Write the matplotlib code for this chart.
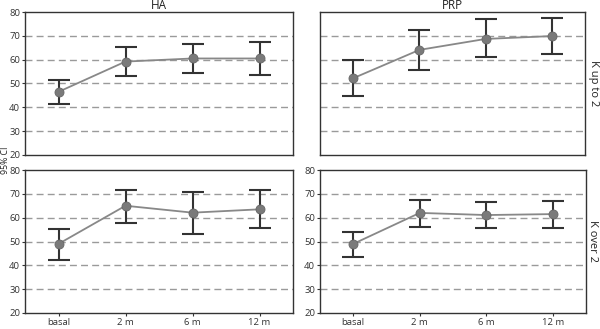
import matplotlib
matplotlib.use("Agg")
import matplotlib.pyplot as plt
import numpy as np

plt.rcParams['font.family'] = ['Open Sans', 'DejaVu Sans']

categories = ["basal", "2 m", "6 m", "12 m"]
col_titles = ["HA", "PRP"]
row_titles = ["K up to 2", "K over 2"]

# HA, K up to 2
ha_up_mean = [46.5, 59.2, 60.5, 60.5]
ha_up_low = [41.6, 53.2, 54.5, 53.6]
ha_up_high = [51.4, 65.3, 66.5, 67.3]
# PRP, K up to 2
prp_up_mean = [52.2, 64.1, 68.7, 69.9]
prp_up_low = [44.6, 55.6, 61.1, 62.5]
prp_up_high = [59.7, 72.5, 77.0, 77.4]
# HA, K over 2
ha_over_mean = [49.0, 65.0, 62.1, 63.5]
ha_over_low = [42.3, 57.9, 53.1, 55.5]
ha_over_high = [55.4, 71.7, 70.8, 71.7]
# PRP, K over 2
prp_over_mean = [49.0, 62.0, 61.1, 61.5]
prp_over_low = [43.7, 56.1, 55.7, 55.7]
prp_over_high = [54.0, 67.5, 66.4, 67.0]

yticks = [20, 30, 40, 50, 60, 70, 80]
grid_vals = [30, 40, 50, 60, 70]

W, H = 600, 329
fig = plt.figure(figsize=(6.0, 3.29), dpi=100)

panels = [
    ((25, 12, 293, 155), (ha_up_mean, ha_up_low, ha_up_high), True, False, col_titles[0], None),
    ((320, 12, 585, 155), (prp_up_mean, prp_up_low, prp_up_high), False, False, col_titles[1], row_titles[0]),
    ((25, 170, 293, 313), (ha_over_mean, ha_over_low, ha_over_high), True, True, None, None),
    ((320, 170, 586, 313), (prp_over_mean, prp_over_low, prp_over_high), True, True, None, row_titles[1]),
]

x = np.arange(len(categories))
for (l, t, r, b), (m, lo, hi), showy, showx, title, rowlab in panels:
    ax = fig.add_axes([l / W, (H - b) / H, (r - l) / W, (b - t) / H])
    m = np.array(m); lo = np.array(lo); hi = np.array(hi)
    for g in grid_vals:
        ax.axhline(g, color='#9a9a9a', lw=1.0, ls=(0, (5, 3)), zorder=0)
    ax.errorbar(x, m, yerr=[m - lo, hi - m], fmt='none', ecolor='#333333',
                elinewidth=1.5, capsize=8, capthick=1.5, zorder=2)
    ax.plot(x, m, color='#888888', lw=1.3, zorder=3)
    ax.plot(x, m, 'o', ms=6.5, mfc='#7a7a7a', mec='#666666', mew=0.6, zorder=4)
    ax.set_xlim(-0.5, 3.5)
    ax.set_ylim(20, 80)
    ax.set_yticks(yticks)
    ax.set_xticks(x)
    for s in ax.spines.values():
        s.set_color('#333333')
        s.set_linewidth(1.0)
    ax.tick_params(axis='both', colors='#333333', labelsize=6.8, length=2.5, width=0.8, pad=1)
    if showy:
        ax.set_yticklabels([str(v) for v in yticks])
    else:
        ax.set_yticklabels([])
        ax.tick_params(axis='y', length=0)
    if showx:
        ax.set_xticklabels(categories)
    else:
        ax.set_xticklabels([])
        ax.tick_params(axis='x', length=0)
    if title:
        ax.set_title(title, fontsize=8.5, pad=1, color='#222222')
    if rowlab:
        fig.text(593 / W, 1 - ((t + b) / 2) / H, rowlab, rotation=-90,
                 ha='center', va='center', fontsize=8, color='#222222')

fig.text(5.5 / W, 1 - 160 / H, "95% CI", rotation=90, ha='center', va='center',
         fontsize=6.3, color='#222222')

fig.savefig("out.png", dpi=100)
